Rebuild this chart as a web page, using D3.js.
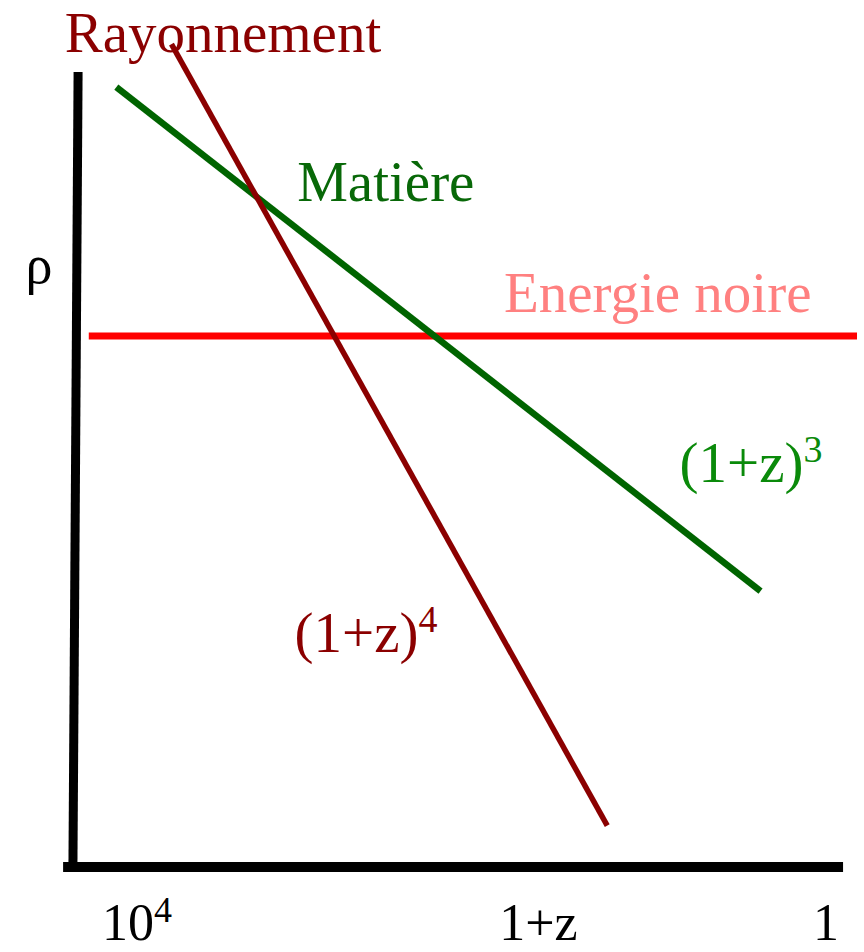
<!DOCTYPE html>
<html>
<head>
<meta charset="utf-8">
<script src="https://cdn.jsdelivr.net/npm/d3@7"></script>
<style>
  html, body { margin: 0; padding: 0; background: #fff; }
  svg { display: block; }
  text { font-family: "Liberation Serif", "Times New Roman", serif; }
</style>
</head>
<body>
<svg id="chart" width="864" height="952"></svg>
<script>
// Schematic log-log densities: x = log10(1+z) (decreasing to the right), y = log(rho) in arbitrary units
const rayonnement = [{ lz: 3.80, lr: 10.35 }, { lz: 1.27, lr: 0.52 }];
const matiere     = [{ lz: 4.12, lr: 9.81 },  { lz: 0.38, lr: 3.47 }];
const energieNoire = [{ lz: 4.28, lr: 6.68 }, { lz: -0.18, lr: 6.68 }];

// Axis frame (slightly tilted vertical axis as in a hand-drawn sketch)
const yAxisLine = [{ lz: 4.342, lr: 10.0 }, { lz: 4.372, lr: 0.0 }];
const xAxisLine = [{ lz: 4.40, lr: 0.0 }, { lz: -0.07, lr: 0.0 }];

// Tick labels along the 1+z axis
const xTicks = [
  { lz: 4, base: "10", sup: "4" },
  { lz: 1.67, base: "1+z", sup: "" },
  { lz: 0, base: "1", sup: "" }
];

const seriesLabels = [
  { text: "Rayonnement", sup: "", lz: 4.42, lr: 10.25, color: "#8b0000" },
  { text: "Matière", sup: "", lz: 3.07, lr: 8.38, color: "#086808" },
  { text: "Energie noire", sup: "", lz: 1.87, lr: 6.98, color: "#ff8080" },
  { text: "(1+z)", sup: "3", lz: 0.85, lr: 4.84, color: "#0a8a0a" },
  { text: "(1+z)", sup: "4", lz: 3.085, lr: 2.71, color: "#8b0000" }
];

const svg = d3.select("#chart");

const x = d3.scaleLinear().domain([4, 0]).range([137, 826]);
const y = d3.scaleLinear().domain([0, 10]).range([867, 72]);

const line = d3.line().x(d => x(d.lz)).y(d => y(d.lr));

// Axes
svg.append("path").datum(yAxisLine).attr("d", line)
  .attr("fill", "none").attr("stroke", "#000").attr("stroke-width", 9);
svg.append("path").datum(xAxisLine).attr("d", line)
  .attr("fill", "none").attr("stroke", "#000").attr("stroke-width", 10)
  .attr("stroke-linecap", "square");

// Density curves
svg.append("path").datum(energieNoire).attr("d", line)
  .attr("fill", "none").attr("stroke", "#ff0000").attr("stroke-width", 7);
svg.append("path").datum(matiere).attr("d", line)
  .attr("fill", "none").attr("stroke", "#006400").attr("stroke-width", 6.5);
svg.append("path").datum(rayonnement).attr("d", line)
  .attr("fill", "none").attr("stroke", "#8b0000").attr("stroke-width", 5.5);

// Axis labels
svg.append("text").attr("x", 39).attr("y", 283)
  .attr("text-anchor", "middle").attr("font-size", 54)
  .attr("fill", "#000").text("ρ");

xTicks.forEach(t => {
  const tx = svg.append("text")
    .attr("x", x(t.lz)).attr("y", 940)
    .attr("text-anchor", "middle").attr("font-size", 52).attr("fill", "#000");
  tx.append("tspan").text(t.base);
  if (t.sup) tx.append("tspan").attr("font-size", 36).attr("dy", -18).text(t.sup);
});

// Series labels
seriesLabels.forEach(s => {
  const t = svg.append("text")
    .attr("x", x(s.lz)).attr("y", y(s.lr))
    .attr("font-size", 57).attr("fill", s.color);
  t.append("tspan").text(s.text);
  if (s.sup) t.append("tspan").attr("font-size", 38).attr("dy", -20).text(s.sup);
});
</script>
</body>
</html>
